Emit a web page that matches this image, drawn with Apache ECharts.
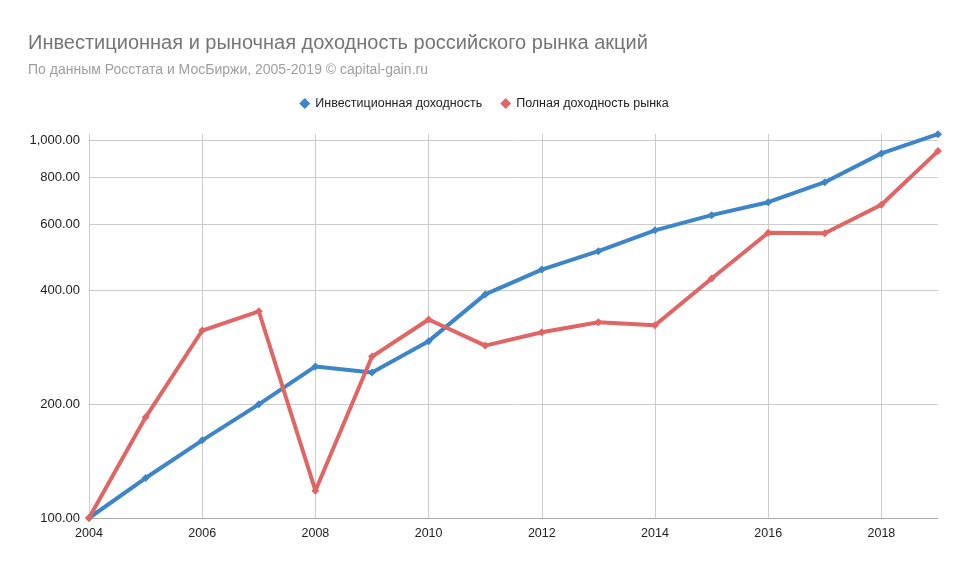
<!DOCTYPE html>
<html>
<head>
<meta charset="utf-8">
<script src="https://cdn.jsdelivr.net/npm/echarts@6/dist/echarts.min.js"></script>
<style>html,body{margin:0;padding:0;background:#fff}#c{width:968px;height:567px}</style>
</head>
<body>
<div id="c"></div>
<script>
var years = ['2004','2005','2006','2007','2008','2009','2010','2011','2012','2013','2014','2015','2016','2017','2018','2019'];
var investReturn = [100, 127.6, 160.6, 200, 252, 243, 294, 391, 455, 509, 578, 634, 686, 775, 924, 1039];
var marketReturn = [100, 184.8, 313.7, 352.8, 118.1, 267.6, 335.5, 286.2, 310.3, 329.9, 323.9, 430.8, 569.3, 567.9, 675.3, 936.9];
var yTicks = [100, 200, 400, 600, 800, 1000];
var seriesNames = ['Инвестиционная доходность', 'Полная доходность рынка'];

var chart = echarts.init(document.getElementById('c'));
var fmt = function (v) {
  return Number(v).toLocaleString('en-US', {minimumFractionDigits: 2, maximumFractionDigits: 2});
};
chart.setOption({
  animation: false,
  textStyle: {fontFamily: 'Arial, "Liberation Sans", sans-serif'},
  title: {
    text: 'Инвестиционная и рыночная доходность российского рынка акций',
    subtext: 'По данным Росстата и МосБиржи, 2005-2019 © capital-gain.ru',
    left: 23, top: 28,
    itemGap: 10,
    textStyle: {fontSize: 20, fontWeight: 'normal', color: '#757575', fontFamily: 'Arial, "Liberation Sans", sans-serif'},
    subtextStyle: {fontSize: 14, color: '#9e9e9e', fontFamily: 'Arial, "Liberation Sans", sans-serif'}
  },
  legend: {
    top: 92, left: 'center',
    icon: 'diamond', itemWidth: 11, itemHeight: 11, itemGap: 18,
    textStyle: {fontSize: 12.5, color: '#222'},
    data: seriesNames
  },
  grid: {left: 89, right: 30, top: 134, bottom: 49, containLabel: false},
  xAxis: {
    type: 'category', data: years, boundaryGap: false,
    axisLine: {lineStyle: {color: '#aaaaaa'}},
    axisTick: {show: false},
    axisLabel: {interval: 1, color: '#222', fontSize: 12.5, margin: 9},
    splitLine: {show: true, interval: 1, lineStyle: {color: '#cccccc'}}
  },
  yAxis: {
    type: 'log', logBase: 10, min: 100, max: 1040,
    axisLine: {show: false}, axisTick: {show: false, customValues: yTicks},
    axisLabel: {customValues: yTicks, color: '#222', fontSize: 13, margin: 9, formatter: fmt},
    splitLine: {show: true, lineStyle: {color: '#cccccc'}}
  },
  series: [
    {name: seriesNames[0], type: 'line', data: investReturn, symbol: 'diamond', symbolSize: 8,
     lineStyle: {width: 4, color: '#3d85c6'}, itemStyle: {color: '#3d85c6'}},
    {name: seriesNames[1], type: 'line', data: marketReturn, symbol: 'diamond', symbolSize: 8,
     lineStyle: {width: 4, color: '#e06666'}, itemStyle: {color: '#e06666'}}
  ]
});
</script>
</body>
</html>
